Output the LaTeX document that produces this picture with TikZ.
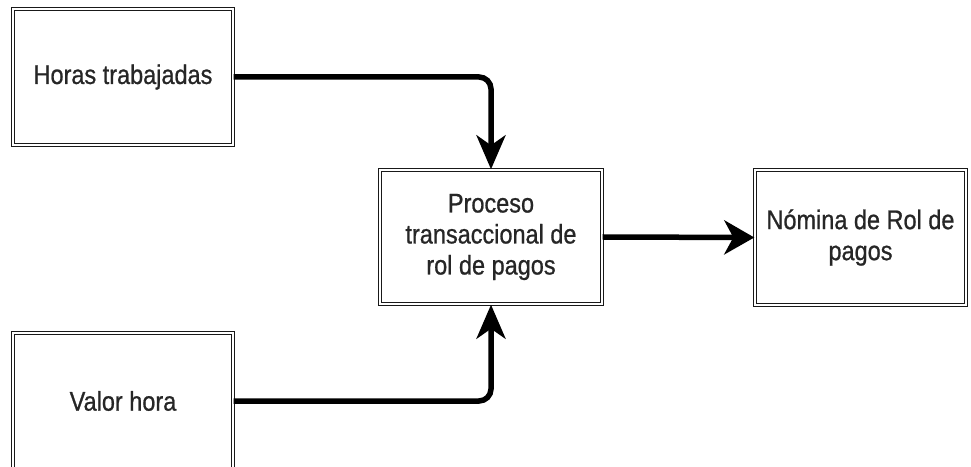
\documentclass[tikz,border=0pt]{standalone}
\usepackage{fontspec}
\setmainfont{Liberation Sans}[FakeStretch=0.87,FakeBold=0.8]
\usetikzlibrary{arrows.meta}
\begin{document}
\begin{tikzpicture}[x=1pt,y=1pt,
  box/.style={draw=black!90, line width=1.4pt, double=white, double distance=1.6pt,
    minimum width=220pt, minimum height=136pt, inner sep=0pt, align=center,
    font=\fontsize{27}{31}\selectfont, text=black!85},
  flow/.style={draw=black, line width=5.5pt, rounded corners=12pt,
    -{Stealth[length=34pt,width=29pt,inset=10pt]}}]
\useasboundingbox (0,0) rectangle (971,466);
\node[box] (h) at (123,389) {Horas trabajadas};
\node[box, minimum width=222pt, minimum height=134pt] (p) at (491,229) {Proceso\\transaccional de\\rol de pagos};
\node[box, minimum width=211pt, minimum height=135pt] (n) at (860.5,228.5) {Nómina de Rol de\\pagos};
\node[box] (v) at (123,65) {Valor hora};
\draw[flow] (h.east) -| (p.north);
\draw[flow] (v.east) -| (p.south);
\draw[flow, -{Stealth[length=30pt,width=34pt,inset=9pt]}] (p.east) -- (n.west);
\end{tikzpicture}
\end{document}
